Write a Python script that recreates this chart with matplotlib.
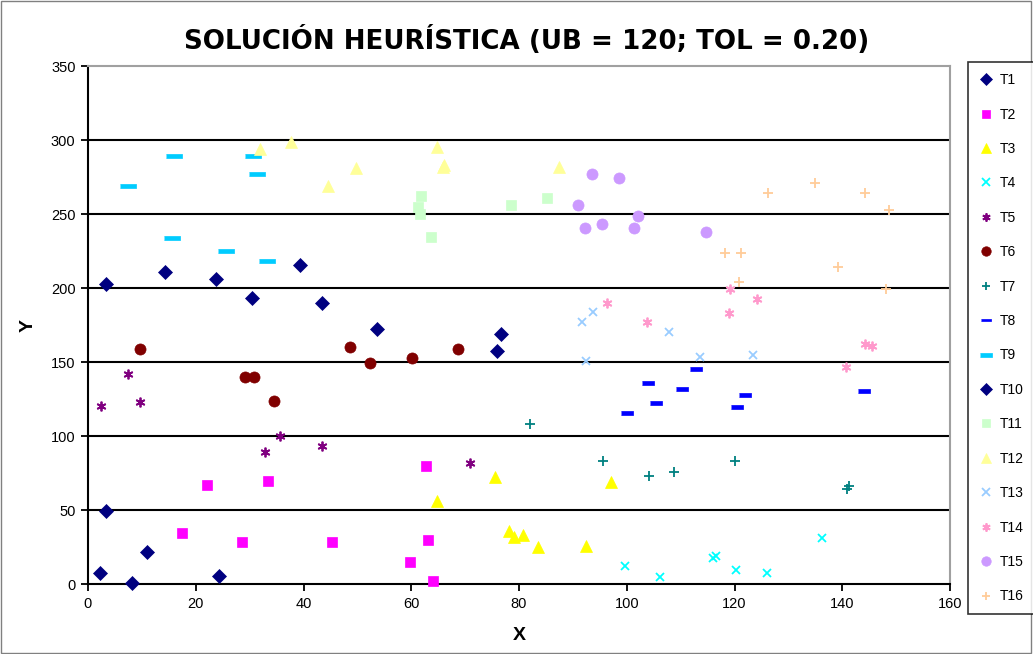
# Solución heurística: clientes por ruta (T1..T16)
import numpy as np
import matplotlib.pyplot as plt
from matplotlib.patches import Rectangle

plt.rcParams['font.family'] = ['Liberation Sans', 'DejaVu Sans']

# datos
t1_x = [2.2, 3.4, 8.2, 10.9, 24.3]
t1_y = [7.6, 49.3, 0.5, 21.4, 5.6]
t2_x = [22.0, 33.4, 17.4, 28.6, 62.7, 45.2, 63.1, 59.7, 64.0]
t2_y = [66.9, 69.8, 34.2, 28.2, 79.7, 28.2, 29.7, 15.1, 2.2]
t3_x = [75.5, 64.8, 78.2, 79.0, 80.7, 83.5, 92.5, 97.0]
t3_y = [72.5, 56.3, 36.0, 32.0, 33.0, 24.8, 25.7, 69.1]
t4_x = [99.6, 106.2, 116.6, 116.1, 120.3, 126.1, 136.3]
t4_y = [12.2, 4.9, 19.1, 17.3, 9.5, 7.4, 31.0]
t5_x = [2.4, 7.5, 9.7, 35.6, 32.8, 43.4, 70.9]
t5_y = [120.5, 141.9, 122.8, 100.0, 89.2, 93.5, 82.0]
t6_x = [9.6, 29.2, 30.8, 34.5, 48.6, 52.3, 60.1, 68.6]
t6_y = [158.6, 140.1, 140.1, 123.9, 160.4, 149.5, 152.9, 159.0]
t7_x = [82.1, 95.5, 104.1, 108.8, 120.0, 140.8, 141.3]
t7_y = [108.1, 83.3, 73.0, 75.4, 83.3, 64.0, 66.0]
t8_x = [100.0, 103.9, 105.4, 110.2, 112.9, 120.4, 122.0, 144.0]
t8_y = [115.5, 136.0, 122.3, 132.0, 145.5, 119.8, 127.7, 130.4]
t9_x = [15.9, 7.4, 30.6, 31.4, 15.5, 25.7, 33.2]
t9_y = [289.0, 268.9, 289.0, 276.8, 233.6, 225.2, 218.4]
t10_x = [3.4, 14.3, 23.8, 30.5, 39.4, 43.4, 53.6, 76.6, 75.9]
t10_y = [202.7, 211.0, 206.0, 193.4, 215.3, 189.7, 172.1, 168.9, 157.4]
t11_x = [61.9, 61.2, 61.7, 63.6, 78.5, 85.2]
t11_y = [262.2, 254.9, 250.0, 234.7, 255.9, 260.6]
t12_x = [31.9, 37.6, 44.5, 49.8, 64.8, 66.0, 65.9, 87.4]
t12_y = [293.7, 298.6, 268.9, 280.9, 295.1, 283.1, 281.6, 282.0]
t13_x = [91.7, 93.7, 107.8, 92.5, 113.6, 123.4]
t13_y = [176.8, 183.6, 170.5, 150.9, 153.6, 154.7]
t14_x = [96.3, 103.7, 118.9, 119.2, 124.2, 144.2, 145.6, 140.7]
t14_y = [189.6, 176.8, 183.3, 199.1, 192.4, 162.2, 160.8, 146.4]
t15_x = [93.5, 98.5, 90.9, 92.2, 95.4, 102.0, 101.3, 114.7]
t15_y = [276.8, 274.1, 255.9, 240.3, 243.2, 248.9, 240.3, 237.6]
t16_x = [118.3, 121.2, 120.9, 126.3, 135.0, 144.2, 148.6, 139.3, 148.2]
t16_y = [223.4, 223.4, 204.3, 264.0, 270.7, 264.0, 252.7, 214.0, 199.1]

xs = [t1_x, t2_x, t3_x, t4_x, t5_x, t6_x, t7_x, t8_x, t9_x, t10_x, t11_x, t12_x, t13_x, t14_x, t15_x, t16_x]
ys = [t1_y, t2_y, t3_y, t4_y, t5_y, t6_y, t7_y, t8_y, t9_y, t10_y, t11_y, t12_y, t13_y, t14_y, t15_y, t16_y]
labels = ['T%d' % (i + 1) for i in range(16)]

# estilo de cada ruta (al estilo Excel)
dash = [(-1, -0.3), (1, -0.3), (1, 0.3), (-1, 0.3)]
aster = (6, 2, 0)
styles = [
    ('D', '#000080', 7), ('s', '#FF00FF', 7), ('^', '#FFFF00', 8), ('x', '#00FFFF', 6),
    (aster, '#800080', 7), ('o', '#800000', 8), ('+', '#008080', 7), (dash, '#0000FF', 8),
    (dash, '#00CCFF', 11), ('D', '#000080', 7), ('s', '#CCFFCC', 7), ('^', '#FFFF99', 8),
    ('x', '#99CCFF', 6), (aster, '#FF99CC', 7), ('o', '#CC99FF', 8), ('+', '#FFCC99', 7),
]

fig = plt.figure(figsize=(10.33, 6.54), dpi=100)
ax = fig.add_axes([88 / 1033, 1 - 584 / 654, 862 / 1033, 518 / 654])

for x, y, lab, (m, c, ms) in zip(xs, ys, labels, styles):
    line_marker = m in ('x', '+') or m == aster
    ax.plot(x, y, linestyle='none', marker=m, markersize=ms, color=c,
            markeredgecolor=c, markeredgewidth=1.3 if line_marker else 0.5,
            label=lab, zorder=3, clip_on=False)

ax.set_xlim(0, 160)
ax.set_ylim(0, 350)
ax.set_xticks(np.arange(0, 161, 20))
ax.set_yticks(np.arange(0, 351, 50))
for yy in range(50, 301, 50):
    ax.axhline(yy, color='black', lw=1.5, zorder=1)

for s in ['left', 'bottom']:
    ax.spines[s].set_color('black')
    ax.spines[s].set_linewidth(1.5)
for s in ['top', 'right']:
    ax.spines[s].set_color('#a0a0a0')
    ax.spines[s].set_linewidth(1.5)
ax.tick_params(direction='out', length=5, width=1.3, labelsize=10.5, pad=4)

ax.set_xlabel('X', fontsize=14, fontweight='bold', labelpad=12)
ax.set_ylabel('Y', fontsize=14, fontweight='bold', labelpad=10)

fig.text(0.51, 0.938, 'SOLUCIÓN HEURÍSTICA (UB = 120; TOL = 0.20)',
         ha='center', va='center', fontsize=18.8, fontweight='bold',
         family=['DejaVu Sans'])

leg = fig.legend(loc='upper left', bbox_to_anchor=(968 / 1033, 1 - 62 / 654),
                 frameon=True, fancybox=False, fontsize=10, labelspacing=1.47,
                 handlelength=1.0, handletextpad=0.5, borderpad=0.8,
                 markerscale=0.85, borderaxespad=0)
leg.get_frame().set_edgecolor('black')
leg.get_frame().set_linewidth(1.2)

fig.patches.append(Rectangle((0.001, 0.001), 0.997, 0.997, transform=fig.transFigure,
                             fill=False, edgecolor='#808080', lw=1))

fig.savefig('out.png', dpi=100)
